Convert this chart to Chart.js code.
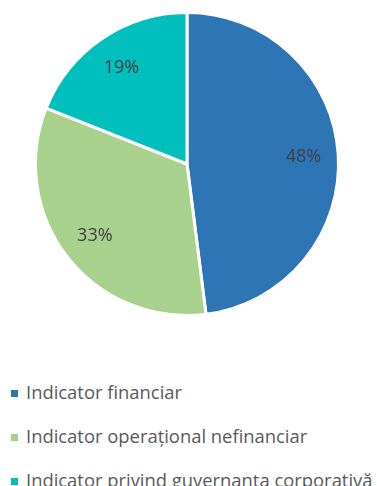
<!DOCTYPE html>
<html>
<head>
<meta charset="utf-8">
<script src="https://cdn.jsdelivr.net/npm/chart.js@4"></script>
<style>
    body { margin: 0; background: #fff; }
    #wrap { position: relative; width: 377px; height: 486px; }
    #pieBox { position: absolute; left: 0; top: 0; width: 377px; height: 328px; }
    #legend { position: absolute; left: 0; top: 370px; width: 377px; font-family: "Open Sans", sans-serif; font-size: 18.4px; color: #595959; }
    .item { position: absolute; left: 11px; height: 24px; line-height: 24px; white-space: nowrap; }
    .item span.box { display: inline-block; width: 7px; height: 7px; margin-right: 8px; vertical-align: middle; position: relative; top: -1px; }
</style>
</head>
<body>
<div id="wrap">
    <div id="pieBox"><canvas id="pieChart"></canvas></div>
    <div id="legend"></div>
</div>
<script>
const categories = ['Indicator financiar', 'Indicator operațional nefinanciar', 'Indicator privind guvernanța corporativă'];
const shares = [48, 33, 19];
const colors = ['#2E75B6', '#A9D18E', '#00BFBC'];

// percentage labels inside each slice, at 3/4 of the radius
const sliceLabels = {
    id: 'sliceLabels',
    afterDatasetsDraw(chart) {
        const ctx = chart.ctx;
        const meta = chart.getDatasetMeta(0);
        ctx.save();
        ctx.font = '18px "Open Sans", sans-serif';
        ctx.fillStyle = '#404040';
        ctx.textAlign = 'center';
        ctx.textBaseline = 'middle';
        meta.data.forEach((arc, i) => {
            const p = arc.getProps(['x', 'y', 'startAngle', 'endAngle', 'outerRadius']);
            const mid = (p.startAngle + p.endAngle) / 2;
            const r = p.outerRadius * 0.77;
            ctx.fillText(shares[i] + '%', p.x + Math.cos(mid) * r, p.y + Math.sin(mid) * r);
        });
        ctx.restore();
    }
};

new Chart(document.getElementById('pieChart').getContext('2d'), {
    type: 'pie',
    data: {
        labels: categories,
        datasets: [{
            data: shares,
            backgroundColor: colors,
            borderColor: '#ffffff',
            borderWidth: 3
        }]
    },
    options: {
        responsive: true,
        maintainAspectRatio: false,
        animation: false,
        layout: { padding: { left: 34, right: 37, top: 11, bottom: 11 } },
        plugins: { legend: { display: false }, tooltip: { enabled: false } }
    },
    plugins: [sliceLabels]
});

const legendEl = document.getElementById('legend');
categories.forEach((c, i) => {
    const div = document.createElement('div');
    div.className = 'item';
    div.style.top = (10 + i * 44) + 'px';
    div.innerHTML = '<span class="box" style="background:' + colors[i] + '"></span>' + c;
    legendEl.appendChild(div);
});
</script>
</body>
</html>
